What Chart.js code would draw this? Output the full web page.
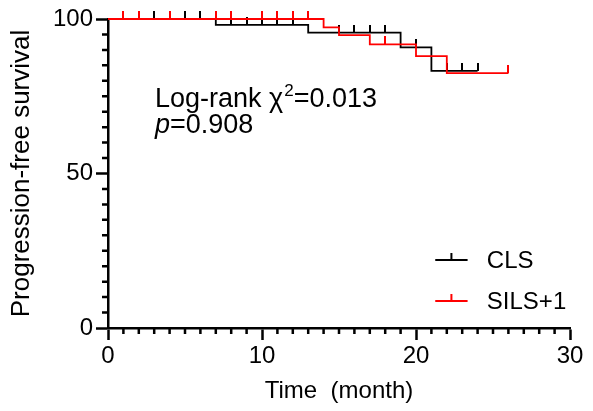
<!DOCTYPE html>
<html>
<head>
<meta charset="utf-8">
<script src="https://cdn.jsdelivr.net/npm/chart.js@4.4.1/dist/chart.umd.min.js"></script>
<style>
  html, body { margin: 0; padding: 0; background: #fff; }
  #wrap { width: 593px; height: 411px; }
</style>
</head>
<body>
<div id="wrap"><canvas id="km"></canvas></div>
<script>
// Kaplan-Meier steps (time in months, survival in %)
const clsTimes = [0, 7, 13, 19, 21, 24];
const clsSurv = [100, 98.1, 95.6, 90.8, 83.2, 83.2];
const clsCensor = [3, 5, 6, 8, 9, 10, 11, 12, 15, 16, 17, 18, 20, 22, 23, 24];

const silsTimes = [0, 14, 15, 17, 20, 22, 26];
const silsSurv = [100, 97.3, 94.8, 91.8, 88.0, 82.5, 82.5];
const silsCensor = [1, 2, 4, 7, 8, 10, 11, 12, 13, 18, 26];

const xTicks = [0, 10, 20, 30];
const yTicks = [0, 50, 100];
const seriesNames = ['CLS', 'SILS+1'];

const FONT = 'Arial, "Liberation Sans", sans-serif';
const RED = '#ff0000';
const BLACK = '#000000';

function survAt(times, surv, t) {
  let s = surv[0];
  for (let i = 0; i < times.length; i++) if (times[i] <= t) s = surv[i];
  return s;
}

function tickImage(color) {
  const c = document.createElement('canvas');
  c.width = 2; c.height = 16;
  const g = c.getContext('2d');
  g.fillStyle = color;
  g.fillRect(0, 0, 2, 8);
  return c;
}

const steps = (times, surv) => times.map((t, i) => ({x: t, y: surv[i]}));
const marks = (censor, times, surv) => censor.map(t => ({x: t, y: survAt(times, surv, t)}));

// minor ticks every 5 % and every month
const minorTicks = {
  id: 'minorTicks',
  afterDraw(chart) {
    const {ctx, scales: {x, y}} = chart;
    ctx.save();
    ctx.strokeStyle = BLACK;
    ctx.lineWidth = 2.5;
    ctx.beginPath();
    for (let v = 0; v <= 100; v += 5) {
      if (v % 50 === 0) continue;
      const py = y.getPixelForValue(v);
      ctx.moveTo(x.left - 6, py); ctx.lineTo(x.left, py);
    }
    for (let m = 0; m <= 30; m++) {
      if (m % 10 === 0) continue;
      const px = x.getPixelForValue(m);
      ctx.moveTo(px, y.bottom); ctx.lineTo(px, y.bottom + 6);
    }
    ctx.stroke();
    ctx.restore();
  }
};

// log-rank text and legend
const extras = {
  id: 'extras',
  afterDraw(chart) {
    const {ctx, scales: {x, y}} = chart;
    ctx.save();
    ctx.fillStyle = BLACK;
    ctx.textBaseline = 'alphabetic';
    ctx.textAlign = 'left';
    let tx = x.getPixelForValue(3.05);
    const b1 = y.getPixelForValue(71.6);
    const b2 = y.getPixelForValue(63.2);
    ctx.font = '27px ' + FONT;
    const part1 = 'Log-rank \u03c7';
    ctx.fillText(part1, tx, b1);
    tx += ctx.measureText(part1).width;
    ctx.font = '17px ' + FONT;
    ctx.fillText('2', tx + 1, b1 - 11);
    tx += ctx.measureText('2').width + 1;
    ctx.font = '27px ' + FONT;
    ctx.fillText('=0.013', tx, b1);

    let px = x.getPixelForValue(3.05);
    ctx.font = 'italic 27px ' + FONT;
    ctx.fillText('p', px, b2);
    px += ctx.measureText('p').width;
    ctx.font = '27px ' + FONT;
    ctx.fillText('=0.908', px, b2);

    // legend
    const rows = [{name: seriesNames[0], color: BLACK, v: 22}, {name: seriesNames[1], color: RED, v: 8.7}];
    const x0 = x.getPixelForValue(21.25), x1 = x.getPixelForValue(23.35), xt = x.getPixelForValue(24.6);
    ctx.textBaseline = 'middle';
    rows.forEach(r => {
      const ly = Math.round(y.getPixelForValue(r.v));
      ctx.strokeStyle = r.color;
      ctx.lineWidth = 2;
      ctx.beginPath();
      ctx.moveTo(x0, ly); ctx.lineTo(x1, ly);
      const mid = (x0 + x1) / 2;
      ctx.moveTo(mid, ly); ctx.lineTo(mid, ly - 7);
      ctx.stroke();
      ctx.fillStyle = BLACK;
      ctx.font = '24px ' + FONT;
      ctx.fillText(r.name, xt, ly + 1);
    });
    ctx.restore();
  }
};

new Chart(document.getElementById('km'), {
  type: 'line',
  data: {
    datasets: [
      {label: seriesNames[1], data: steps(silsTimes, silsSurv), borderColor: RED, borderWidth: 1.8,
       stepped: 'before', pointRadius: 0, fill: false, clip: false, order: 1},
      {label: seriesNames[0], data: steps(clsTimes, clsSurv), borderColor: BLACK, borderWidth: 1.8,
       stepped: 'before', pointRadius: 0, fill: false, clip: false, order: 2},
      {type: 'scatter', label: 'cls censor', data: marks(clsCensor, clsTimes, clsSurv), showLine: false,
       pointStyle: tickImage(BLACK), pointRadius: 5, clip: false, order: 2},
      {type: 'scatter', label: 'sils censor', data: marks(silsCensor, silsTimes, silsSurv), showLine: false,
       pointStyle: tickImage(RED), pointRadius: 5, clip: false, order: 1}
    ]
  },
  options: {
    responsive: true,
    maintainAspectRatio: false,
    animation: false,
    layout: {padding: {left: 0, right: 23, top: 19, bottom: 0}},
    plugins: {legend: {display: false}, tooltip: {enabled: false}},
    scales: {
      x: {
        type: 'linear', min: 0, max: 30,
        afterBuildTicks: s => { s.ticks = xTicks.map(v => ({value: v})); },
        afterFit: s => { s.height = 83; },
        ticks: {color: BLACK, font: {family: FONT, size: 24}, padding: 2, maxRotation: 0},
        grid: {drawOnChartArea: false, tickLength: 12, tickWidth: 2.5, tickColor: BLACK},
        border: {display: true, color: BLACK, width: 2.5},
        title: {display: true, text: 'Time  (month)', color: BLACK, font: {family: FONT, size: 24},
                padding: {top: 0, bottom: 5}}
      },
      y: {
        type: 'linear', min: 0, max: 100,
        afterBuildTicks: s => { s.ticks = yTicks.map(v => ({value: v})); },
        afterFit: s => { s.width = 108; },
        ticks: {color: BLACK, font: {family: FONT, size: 24}, padding: 3},
        grid: {drawOnChartArea: false, tickLength: 12, tickWidth: 2.5, tickColor: BLACK},
        border: {display: true, color: BLACK, width: 2.5},
        title: {display: true, text: 'Progression-free survival', color: BLACK, font: {family: FONT, size: 26},
                padding: {top: 6, bottom: 0}}
      }
    }
  },
  plugins: [minorTicks, extras]
});
</script>
</body>
</html>
